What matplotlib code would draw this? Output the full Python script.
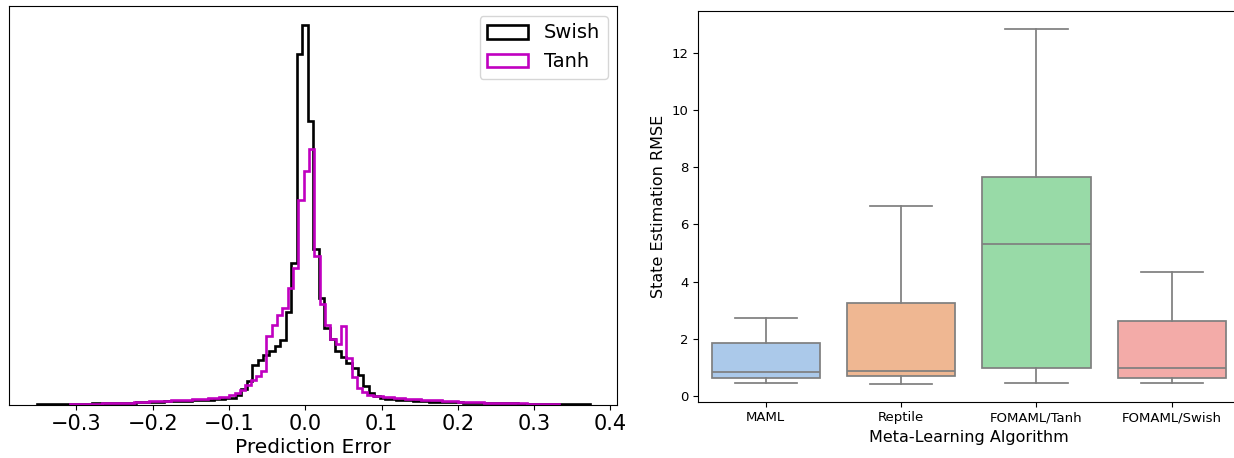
import colorsys
import numpy as np
import matplotlib
matplotlib.use("Agg")
import matplotlib.pyplot as plt
import matplotlib.colors as mcolors

# ---------------- Left panel data: prediction-error histograms ----------------
swish_range = (-0.352, 0.373)
swish_counts = [
    0.4, 0.4, 0.5, 0.5, 0.5, 0.6, 0.6, 0.7, 0.8, 0.9,
    1.0, 1.1, 1.2, 1.3, 1.4, 1.5, 1.6, 1.8, 2.0, 2.2,
    2.4, 2.6, 2.8, 3.0, 3.2, 3.4, 3.6, 3.8, 4.0, 4.2,
    4.5, 4.8, 5.2, 5.6, 6.0, 6.5, 9.0, 15.0, 23.5, 39.0,
    44.0, 49.5, 53.0, 58.0, 64.5, 92.0, 141.0, 350.0, 379.5, 283.0,
    155.0, 106.0, 76.0, 65.0, 53.0, 47.0, 41.0, 36.0, 29.5, 18.0,
    11.0, 8.0, 6.5, 5.8, 5.2, 4.8, 4.4, 4.0, 3.7, 3.4,
    3.1, 2.9, 2.7, 2.5, 2.3, 2.1, 2.0, 1.9, 1.8, 1.7,
    1.6, 1.5, 1.4, 1.3, 1.2, 1.1, 1.0, 0.9, 0.9, 0.8,
    0.7, 0.7, 0.6, 0.6, 0.5, 0.5, 0.5, 0.4, 0.4, 0.4,
]
tanh_range = (-0.3087, 0.3325)
tanh_counts = [
    0.4, 0.5, 0.6, 0.7, 0.8, 0.9, 1.0, 1.1, 1.3, 1.5,
    1.7, 1.9, 2.1, 2.4, 2.7, 3.0, 3.3, 3.6, 3.9, 4.2,
    4.4, 4.6, 4.8, 5.0, 5.3, 5.6, 6.0, 6.5, 7.0, 7.5,
    9.0, 11.0, 14.5, 19.5, 24.5, 28.0, 33.5, 68.0, 79.5, 89.5,
    96.0, 116.0, 136.0, 204.5, 233.8, 255.2, 148.0, 100.0, 79.0, 65.5,
    60.0, 78.0, 46.0, 27.0, 16.0, 12.0, 9.5, 8.5, 8.0, 7.5,
    7.0, 6.6, 6.2, 5.8, 5.5, 5.2, 4.9, 4.6, 4.3, 4.0,
    3.7, 3.4, 3.1, 2.9, 2.7, 2.5, 2.3, 2.1, 1.9, 1.7,
    1.5, 1.4, 1.3, 1.2, 1.1, 1.0, 0.9, 0.8, 0.7, 0.6,
    0.5, 0.4,
]
hist_labels = ["Swish", "Tanh"]
hist_colors = ["black", "#c000c0"]
left_xticks = [-0.3, -0.2, -0.1, 0.0, 0.1, 0.2, 0.3, 0.4]

# ---------------- Right panel data: RMSE box plots ----------------
algorithms = ["MAML", "Reptile", "FOMAML/Tanh", "FOMAML/Swish"]
whisker_low = [0.47, 0.43, 0.48, 0.48]
q1 = [0.65, 0.71, 0.99, 0.65]
median = [0.86, 0.87, 5.32, 0.99]
q3 = [1.86, 3.24, 7.67, 2.62]
whisker_high = [2.74, 6.64, 12.83, 4.35]
pastel = ["#a1c9f4", "#ffb482", "#8de5a1", "#ff9f9b"]


def desaturate(c, prop=0.75):
    r, g, b = mcolors.to_rgb(c)
    h, l, s = colorsys.rgb_to_hls(r, g, b)
    return colorsys.hls_to_rgb(h, l, s * prop)


W, H = 1234, 458
fig = plt.figure(figsize=(W / 100, H / 100), dpi=100)


def px_axes(left, top, right, bottom):
    return fig.add_axes([left / W, 1 - bottom / H, (right - left) / W, (bottom - top) / H])


# ---- left histogram ----
ax1 = px_axes(9, 6, 617.5, 404.5)
for rng, counts, lab, col in [(swish_range, swish_counts, hist_labels[0], hist_colors[0]),
                              (tanh_range, tanh_counts, hist_labels[1], hist_colors[1])]:
    edges = np.linspace(rng[0], rng[1], len(counts) + 1)
    ax1.hist(edges[:-1], bins=edges, weights=counts, histtype="step",
             color=col, linewidth=1.9, label=lab)
ax1.set_yticks([])
ax1.set_xticks(left_xticks)
ax1.tick_params(axis="x", labelsize=15)
ax1.set_xlabel("Prediction Error", fontsize=14.5, labelpad=3)
ax1.legend(loc="upper right", fontsize=14, handlelength=2.1)

# ---- right box plot ----
ax2 = px_axes(698, 11, 1239.5, 401.7)
stats = []
for i, name in enumerate(algorithms):
    stats.append(dict(label=name, whislo=whisker_low[i], q1=q1[i], med=median[i],
                      q3=q3[i], whishi=whisker_high[i], fliers=[]))
line_col = "#7f7f7f"
bp = ax2.bxp(stats, positions=range(len(algorithms)), widths=0.8, patch_artist=True,
             showfliers=False,
             boxprops=dict(edgecolor=line_col, linewidth=1.25),
             medianprops=dict(color=line_col, linewidth=1.25),
             whiskerprops=dict(color=line_col, linewidth=1.25),
             capprops=dict(color=line_col, linewidth=1.25))
for patch, c in zip(bp["boxes"], pastel):
    patch.set_facecolor(desaturate(c))
for cap in bp["caps"]:
    x = cap.get_xdata()
    mid = (x[0] + x[1]) / 2
    cap.set_xdata([mid - 0.23, mid + 0.23])
ax2.set_xlim(-0.5, len(algorithms) - 0.5)
ax2.autoscale(axis="y")
ax2.margins(y=0.05)
ax2.set_yticks([0, 2, 4, 6, 8, 10, 12])
ax2.tick_params(labelsize=9.5)
ax2.set_xlabel("Meta-Learning Algorithm", fontsize=11.5)
ax2.set_ylabel("State Estimation RMSE", fontsize=11.5)

fig.savefig("out.png", dpi=100)
